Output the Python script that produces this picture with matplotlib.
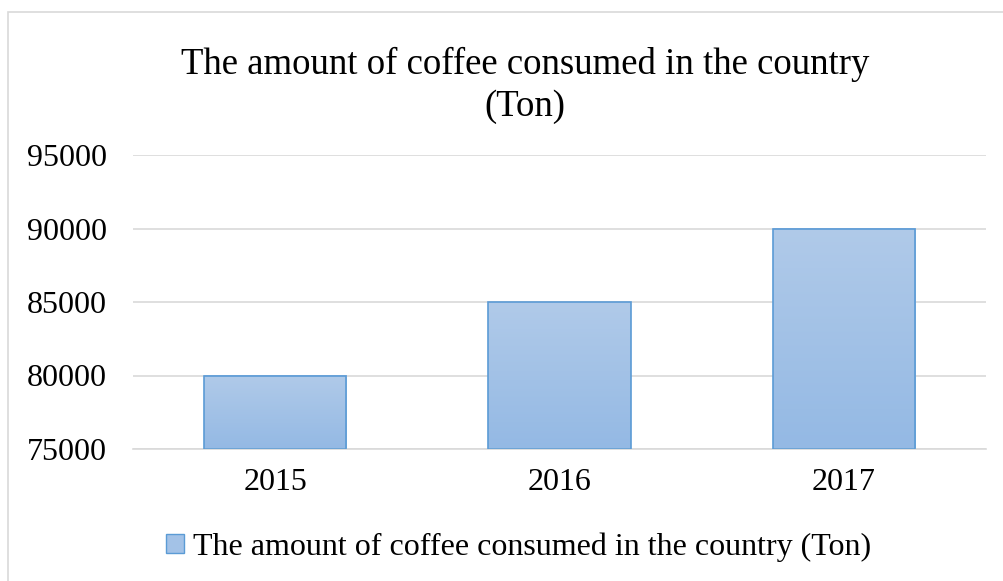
import numpy as np
import matplotlib
matplotlib.use("Agg")
import matplotlib.pyplot as plt
from matplotlib.patches import Rectangle
from matplotlib.colors import LinearSegmentedColormap

years = ["2015", "2016", "2017"]
consumption = [80000, 85000, 90000]
y_ticks = [75000, 80000, 85000, 90000, 95000]
series_name = "The amount of coffee consumed in the country (Ton)"
title_lines = ["The amount of coffee consumed in the country", "(Ton)"]

plt.rcParams["font.family"] = ["Liberation Serif", "DejaVu Serif"]

W, H = 1004, 581
fig = plt.figure(figsize=(W / 100, H / 100), dpi=100)

# outer chart frame (runs off the right and bottom edges)
fig.patches.append(Rectangle((8 / W, -0.1), 1.2, 1 - 12 / H + 0.1,
                             transform=fig.transFigure, fill=False,
                             edgecolor="#d9d9d9", linewidth=1.2))

ax = fig.add_axes([133 / W, 1 - 449 / H, (986 - 133) / W, (449 - 155) / H])
x = np.arange(len(years))
bars = ax.bar(x, [v - y_ticks[0] for v in consumption], bottom=y_ticks[0],
              width=0.5, facecolor="none", edgecolor="#5b9bd5",
              linewidth=1.2, zorder=3)

# vertical gradient fill inside each bar
grad = LinearSegmentedColormap.from_list("bar", ["#94b9e4", "#b0cae9"])
for b in bars:
    x0, y0 = b.get_x(), b.get_y()
    ax.imshow(np.linspace(0, 1, 100).reshape(-1, 1), cmap=grad, origin="lower",
              aspect="auto", extent=(x0, x0 + b.get_width(), y0, y0 + b.get_height()),
              zorder=2)

ax.set_xlim(-0.5, len(years) - 0.5)
ax.set_ylim(y_ticks[0], y_ticks[-1])
ax.set_yticks(y_ticks)
ax.set_yticklabels([str(t) for t in y_ticks])
ax.set_xticks(x)
ax.set_xticklabels(years)
ax.tick_params(length=0, labelsize=23, colors="black")
ax.tick_params(axis="y", pad=19)
ax.tick_params(axis="x", pad=14)
ax.grid(axis="y", color="#d9d9d9", linewidth=1.2, zorder=0)
for s in ["top", "right", "left"]:
    ax.spines[s].set_visible(False)
ax.spines["bottom"].set_color("#d9d9d9")
ax.spines["bottom"].set_linewidth(1.2)

# two-line title, each line placed on its own baseline
fig.text(525 / W, 1 - 74 / H, title_lines[0], ha="center", va="baseline", fontsize=26.5)
fig.text(525 / W, 1 - 116 / H, title_lines[1], ha="center", va="baseline", fontsize=26.5)

handle = Rectangle((0, 0), 1, 1, facecolor="#a3c2e7", edgecolor="#5b9bd5")
fig.legend([handle], [series_name], loc="center left",
           bbox_to_anchor=(166 / W, 1 - 547 / H), frameon=False,
           borderpad=0, borderaxespad=0,
           fontsize=23, handlelength=0.55, handleheight=0.55, handletextpad=0.28)

fig.savefig("out.png", dpi=100)
